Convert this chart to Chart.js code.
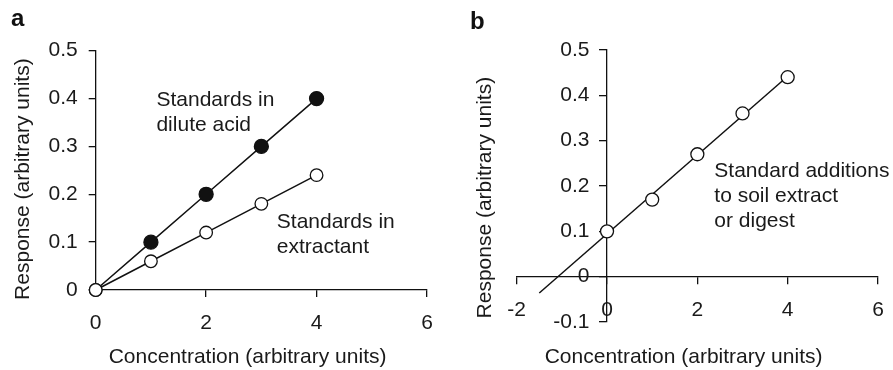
<!DOCTYPE html>
<html>
<head>
<meta charset="utf-8">
<script src="https://cdn.jsdelivr.net/npm/chart.js@4.4.1/dist/chart.umd.min.js"></script>
<style>
  html, body { margin: 0; padding: 0; background: #fff; overflow: hidden; }
  body { width: 893px; height: 370px; position: relative; font-family: "Liberation Sans", Arial, sans-serif; }
  canvas { position: absolute; top: 0; }
  .tag { position: absolute; font-weight: bold; font-size: 24px; line-height: 24px; color: #111; }
</style>
</head>
<body>
<canvas id="grafA" width="450" height="370" style="left:0"></canvas>
<canvas id="grafB" width="443" height="370" style="left:450px"></canvas>
<div class="tag" style="left:11px; top:6px">a</div>
<div class="tag" style="left:470px; top:9px">b</div>
<script>
// panel a: calibration standards
const concA = [0, 1, 2, 3, 4];
const respAcid = [0, 0.1, 0.2, 0.3, 0.4];
const respExtract = [0, 0.06, 0.12, 0.18, 0.24];

// panel b: standard additions
const concB = [0, 1, 2, 3, 4];
const respAdd = [0.10, 0.17, 0.27, 0.36, 0.44];
const fitX = [-1.5, 4];
const fitY = [-0.036, 0.442];

// ticks
const xTicksA = [0, 2, 4, 6];
const xLabelsA = ['0', '2', '4', '6'];
const yTicksA = [0, 0.1, 0.2, 0.3, 0.4, 0.5];
const yLabelsA = ['0', '0.1', '0.2', '0.3', '0.4', '0.5'];
const xTicksB = [-2, 0, 2, 4, 6];
const xLabelsB = ['-2', '0', '2', '4', '6'];
const yTicksB = [-0.1, 0, 0.1, 0.2, 0.3, 0.4, 0.5];
const yLabelsB = ['-0.1', '0', '0.1', '0.2', '0.3', '0.4', '0.5'];

const tituloX = 'Concentration (arbitrary units)';
const tituloY = 'Response (arbitrary units)';

const INK = '#111';
const TXT = '#1a1a1a';
const FUENTE = '"Liberation Sans", Arial, sans-serif';

Chart.defaults.font.family = FUENTE;
Chart.defaults.font.size = 21;
Chart.defaults.color = TXT;

const toXY = (xs, ys) => xs.map((x, i) => ({ x: x, y: ys[i] }));
// espacios al final para correr un poco el texto centrado
const esp = n => ' '.repeat(n);

// texto dentro del grafico, en coordenadas de datos
const notas = {
  id: 'notas',
  afterDatasetsDraw(chart, args, opts) {
    const ctx = chart.ctx;
    ctx.save();
    ctx.font = '21px ' + FUENTE;
    ctx.fillStyle = TXT;
    ctx.textAlign = 'left';
    ctx.textBaseline = 'middle';
    (opts.items || []).forEach(n => {
      const px = chart.scales.x.getPixelForValue(n.x);
      const py = chart.scales.y.getPixelForValue(n.y);
      n.lines.forEach((t, i) => ctx.fillText(t, px, py + i * 25));
    });
    ctx.restore();
  }
};

function ejeBase(ticks, labels, pad, cola) {
  return {
    type: 'linear',
    min: ticks[0],
    max: ticks[ticks.length - 1],
    afterBuildTicks: s => { s.ticks = ticks.map(v => ({ value: v })); },
    ticks: {
      autoSkip: false,
      maxRotation: 0,
      padding: pad,
      color: TXT,
      callback: (v, i) => labels[i] + (cola || '')
    },
    grid: { drawOnChartArea: false, drawTicks: true, tickLength: 7, color: INK, lineWidth: 1.3 },
    border: { display: true, color: INK, width: 1.3 }
  };
}

function sinPadding(s) {
  s.paddingLeft = 0; s.paddingRight = 0; s.paddingTop = 0; s.paddingBottom = 0;
}

// ---------- panel a ----------
const xA = ejeBase(xTicksA, xLabelsA, 14);
xA.position = 'bottom';
xA.title = { display: true, text: tituloX + esp(4) + '\u2009', color: TXT, padding: 0 };
xA.afterFit = s => { s.height = 80; sinPadding(s); };

const yA = ejeBase(yTicksA, yLabelsA, 11);
yA.position = 'left';
yA.title = { display: true, text: tituloY + esp(3), color: TXT, padding: { top: 10.7, bottom: 0 } };
yA.afterFit = s => { s.width = 95.7; sinPadding(s); };

new Chart(document.getElementById('grafA'), {
  type: 'line',
  data: {
    datasets: [
      {
        label: 'Standards in extractant',
        data: toXY(concA, respExtract),
        borderColor: INK,
        borderWidth: 1.5,
        pointRadius: 6.3,
        pointBackgroundColor: '#fff',
        pointBorderColor: INK,
        pointBorderWidth: 1.3,
        clip: false
      },
      {
        label: 'Standards in dilute acid',
        data: toXY(concA, respAcid),
        borderColor: INK,
        borderWidth: 1.5,
        pointRadius: c => c.dataIndex === 0 ? 6.3 : 7,
        pointBackgroundColor: c => c.dataIndex === 0 ? '#fff' : INK,
        pointBorderColor: INK,
        pointBorderWidth: 1.3,
        clip: false
      }
    ]
  },
  options: {
    responsive: false,
    animation: false,
    events: [],
    layout: { padding: { left: 0, right: 23, top: 50.7, bottom: 0 } },
    scales: { x: xA, y: yA },
    plugins: {
      legend: { display: false },
      tooltip: { enabled: false },
      notas: {
        items: [
          { lines: ['Standards in', 'dilute acid'], x: 1.1, y: 0.397 },
          { lines: ['Standards in', 'extractant'], x: 3.28, y: 0.142 }
        ]
      }
    }
  },
  plugins: [notas]
});

// ---------- panel b ----------
const xB = ejeBase(xTicksB, xLabelsB, 14);
xB.position = { y: 0 };
xB.title = { display: true, text: tituloX + esp(4) + '\u2009', color: TXT, padding: 0 };
xB.afterFit = s => { s.height = 93.3; sinPadding(s); };

// con posicion {x: 0} las etiquetas quedan pegadas al eje: se separan con espacios
const yB = ejeBase(yTicksB, yLabelsB, 11, esp(3));
yB.position = { x: 0 };
yB.afterFit = s => { sinPadding(s); };

// eje solo para el titulo vertical (a la izquierda)
const ytB = {
  type: 'linear',
  position: 'left',
  min: -0.1,
  max: 0.5,
  ticks: { display: false },
  grid: { display: false },
  border: { display: false },
  title: { display: true, text: tituloY + esp(4), color: TXT, padding: { top: 22.4, bottom: 0 } },
  afterFit: s => { s.width = 66.7; sinPadding(s); }
};

new Chart(document.getElementById('grafB'), {
  type: 'line',
  data: {
    datasets: [
      {
        label: 'Standard additions',
        data: toXY(concB, respAdd),
        showLine: false,
        pointRadius: 6.5,
        pointBackgroundColor: '#fff',
        pointBorderColor: INK,
        pointBorderWidth: 1.3,
        xAxisID: 'x',
        yAxisID: 'y',
        clip: false
      },
      {
        label: 'fit',
        data: toXY(fitX, fitY),
        borderColor: INK,
        borderWidth: 1.5,
        pointRadius: 0,
        xAxisID: 'x',
        yAxisID: 'y',
        clip: false
      }
    ]
  },
  options: {
    responsive: false,
    animation: false,
    events: [],
    layout: { padding: { left: 0, right: 15, top: 50, bottom: 48 } },
    scales: { x: xB, y: yB, yt: ytB },
    plugins: {
      legend: { display: false },
      tooltip: { enabled: false },
      notas: {
        items: [
          { lines: ['Standard additions', 'to soil extract', 'or digest'], x: 2.376, y: 0.232 }
        ]
      }
    }
  },
  plugins: [notas]
});
</script>
</body>
</html>
